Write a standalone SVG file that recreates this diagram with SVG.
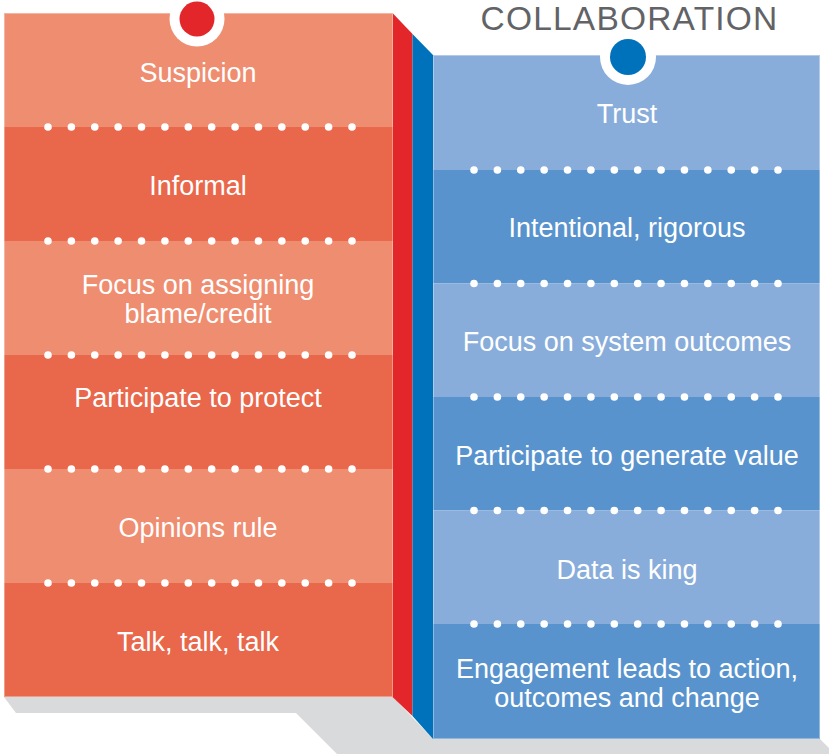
<svg xmlns="http://www.w3.org/2000/svg" width="829" height="754" viewBox="0 0 829 754">
<style>
.t{font-family:"Liberation Sans",Arial,sans-serif;font-size:27px;fill:#fff;text-anchor:middle}
.lL{fill:#EF8D70}.lD{fill:#E9674A}.rL{fill:#89ADDA}.rD{fill:#5993CD}
.dots{stroke:#fff;stroke-width:7.6;stroke-linecap:round;stroke-dasharray:0 23.385;fill:none}
.edge{fill:none;stroke:#fff;stroke-opacity:.35;stroke-width:1}
</style>
<rect width="829" height="754" fill="#fff"/>
<polygon id="shadow" points="4,697 16,713 296,713 337,754 829,754 829,748 820,739 433,739 393,697" fill="#D9DADC"/>
<text x="629.5" y="30" style="font-family:'Liberation Sans',Arial,sans-serif;font-size:33.5px;fill:#626366;text-anchor:middle;letter-spacing:1.2px">COLLABORATION</text>
<g id="strip-red"><polygon points="392.5,13 412.5,34 412.5,716 392.5,697" fill="#E2262A"/></g>
<g id="strip-blue"><polygon points="412.5,34 433,55 433,739 412.5,716" fill="#0071BB"/></g>
<g id="left-panel">
<g id="l1"><rect class="lL" x="4" y="13" width="389" height="114"/><text class="t" x="198" y="82">Suspicion</text></g>
<g id="l2"><rect class="lD" x="4" y="127" width="389" height="114"/><text class="t" x="198" y="195">Informal</text></g>
<g id="l3"><rect class="lL" x="4" y="241" width="389" height="114"/><text class="t" x="198" y="294">Focus on assigning</text><text class="t" x="198" y="323">blame/credit</text></g>
<g id="l4"><rect class="lD" x="4" y="355" width="389" height="114"/><text class="t" x="198" y="407">Participate to protect</text></g>
<g id="l5"><rect class="lL" x="4" y="469" width="389" height="114"/><text class="t" x="198" y="537">Opinions rule</text></g>
<g id="l6"><rect class="lD" x="4" y="583" width="389" height="114"/><text class="t" x="198" y="651">Talk, talk, talk</text></g>
<rect class="edge" x="4.5" y="13.5" width="388" height="683"/>
</g>
<g id="right-panel">
<g id="r1"><rect class="rL" x="433" y="55" width="387" height="115"/><text class="t" x="627" y="123">Trust</text></g>
<g id="r2"><rect class="rD" x="433" y="170" width="387" height="113.5"/><text class="t" x="627" y="237">Intentional, rigorous</text></g>
<g id="r3"><rect class="rL" x="433" y="283.5" width="387" height="113.5"/><text class="t" x="627" y="351">Focus on system outcomes</text></g>
<g id="r4"><rect class="rD" x="433" y="397" width="387" height="113.5"/><text class="t" x="627" y="465">Participate to generate value</text></g>
<g id="r5"><rect class="rL" x="433" y="510.5" width="387" height="113.5"/><text class="t" x="627" y="579">Data is king</text></g>
<g id="r6"><rect class="rD" x="433" y="624" width="387" height="115"/><text class="t" x="627" y="678">Engagement leads to action,</text><text class="t" x="627" y="707">outcomes and change</text></g>
<rect class="edge" x="433.5" y="55.5" width="386" height="683"/>
</g>
<g id="connectors">
<line class="dots" x1="48" y1="127" x2="352.5" y2="127"/>
<line class="dots" x1="48" y1="241" x2="352.5" y2="241"/>
<line class="dots" x1="48" y1="355" x2="352.5" y2="355"/>
<line class="dots" x1="48" y1="469" x2="352.5" y2="469"/>
<line class="dots" x1="48" y1="583" x2="352.5" y2="583"/>
<line class="dots" x1="474" y1="170" x2="778.5" y2="170"/>
<line class="dots" x1="474" y1="283.5" x2="778.5" y2="283.5"/>
<line class="dots" x1="474" y1="397" x2="778.5" y2="397"/>
<line class="dots" x1="474" y1="510.5" x2="778.5" y2="510.5"/>
<line class="dots" x1="474" y1="624" x2="778.5" y2="624"/>
</g>
<g id="marker-left"><circle cx="197" cy="19" r="27.5" fill="#fff"/><circle cx="197" cy="19" r="17.5" fill="#E2262A"/></g>
<g id="marker-right"><circle cx="628" cy="57" r="28" fill="#fff"/><circle cx="628" cy="57" r="18" fill="#0071BB"/></g>
</svg>
